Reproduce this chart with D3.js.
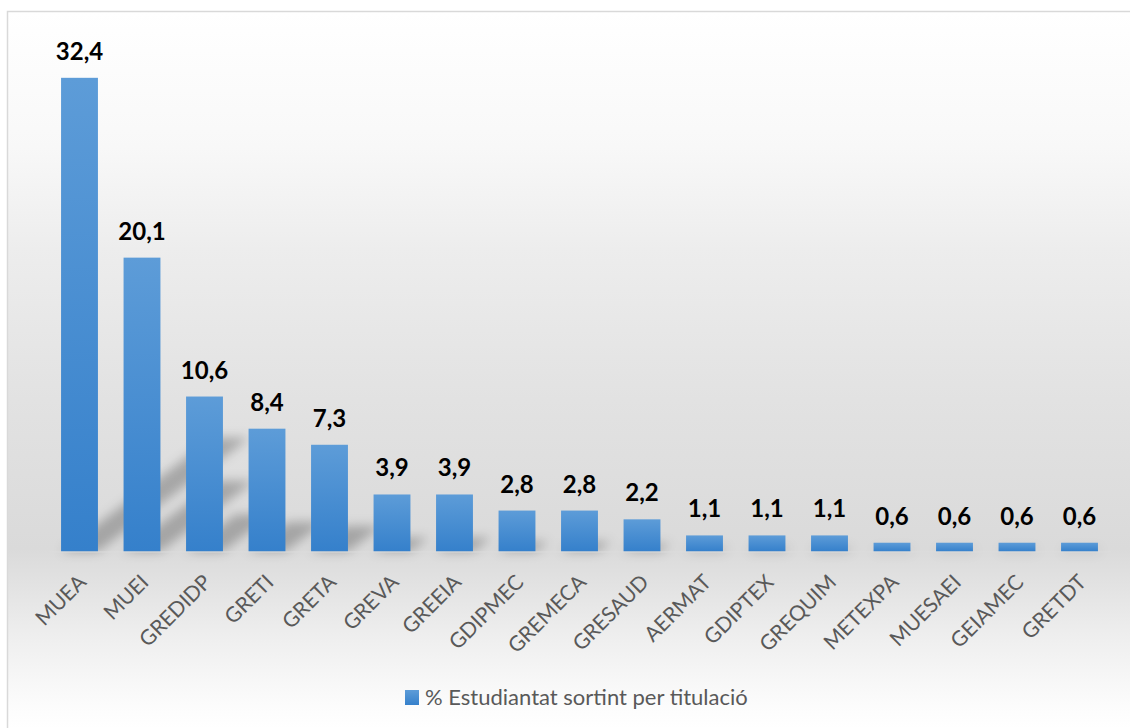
<!DOCTYPE html>
<html>
<head>
<meta charset="utf-8">
<script src="https://cdn.jsdelivr.net/npm/d3@7"></script>
<style>
  html, body { margin: 0; padding: 0; background: #ffffff; }
  svg { display: block; }
</style>
</head>
<body>
<svg id="chart" width="1130" height="728"></svg>
<script>
// Titulacions i percentatge d'estudiantat sortint
const categories = ["MUEA", "MUEI", "GREDIDP", "GRETI", "GRETA", "GREVA", "GREEIA", "GDIPMEC",
  "GREMECA", "GRESAUD", "AERMAT", "GDIPTEX", "GREQUIM", "METEXPA", "MUESAEI", "GEIAMEC", "GRETDT"];
const values = [32.4, 20.1, 10.6, 8.4, 7.3, 3.9, 3.9, 2.8, 2.8, 2.2, 1.1, 1.1, 1.1, 0.6, 0.6, 0.6, 0.6];
const seriesName = "% Estudiantat sortint per titulació";

const W = 1130, H = 728;
const svg = d3.select("#chart");
const defs = svg.append("defs");

// Chart area background: soft vertical grey gradient
const bg = defs.append("linearGradient")
  .attr("id", "bgGrad").attr("gradientUnits", "userSpaceOnUse")
  .attr("x1", 0).attr("y1", 12).attr("x2", 0).attr("y2", 728);
[[0, "#ffffff"], [0.19, "#f8f8f8"], [0.33, "#ededed"], [0.54, "#e2e2e2"],
 [0.75, "#dadada"], [0.87, "#eeeeee"], [0.97, "#fcfcfc"], [1, "#ffffff"]]
  .forEach(([o, c]) => bg.append("stop").attr("offset", o).attr("stop-color", c));

// Bar fill: lighter at top, deeper blue at the base
const barGrad = defs.append("linearGradient")
  .attr("id", "barGrad").attr("x1", 0).attr("y1", 0).attr("x2", 0).attr("y2", 1);
barGrad.append("stop").attr("offset", 0).attr("stop-color", "#5d9cd8");
barGrad.append("stop").attr("offset", 1).attr("stop-color", "#3580cb");

// Blur for the perspective shadows
defs.append("filter").attr("id", "shadowBlur")
  .attr("x", "-50%").attr("y", "-50%").attr("width", "200%").attr("height", "200%")
  .append("feGaussianBlur").attr("stdDeviation", 5.5);

svg.append("rect")
  .attr("x", 7.5).attr("y", 11.5).attr("width", W).attr("height", H)
  .attr("fill", "url(#bgGrad)")
  .attr("stroke", "#d9d9d9").attr("stroke-width", 1.5);

const base = 551.5;
const x = d3.scaleBand().domain(categories).range([48.25, 1110.75]).paddingInner(0.41).paddingOuter(0.205);
const y = d3.scaleLinear().domain([0, 35]).range([base, base - 35 * 14.62]);

const data = categories.map((c, i) => ({ cat: c, val: values[i] }));

// Perspective shadows cast up and to the right
svg.append("g").attr("filter", "url(#shadowBlur)")
  .selectAll("path").data(data).join("path")
  .attr("d", d => {
    const x0 = x(d.cat), x1 = x0 + x.bandwidth();
    const h = base - y(d.val);
    const dx = 0.32 * h, dy = 0.24 * h;
    return `M${x0},${base}L${x1},${base}L${x1 + dx},${base - dy}L${x0 + dx},${base - dy}Z`;
  })
  .attr("fill", "#000").attr("fill-opacity", 0.25);

// Bars
svg.append("g").selectAll("rect").data(data).join("rect")
  .attr("x", d => x(d.cat))
  .attr("y", d => y(d.val))
  .attr("width", x.bandwidth())
  .attr("height", d => base - y(d.val))
  .attr("fill", "url(#barGrad)");

// Value labels
const fmt = v => d3.format(".1f")(v).replace(".", ",");
svg.append("g").selectAll("text").data(data).join("text")
  .attr("x", d => x(d.cat) + x.bandwidth() / 2)
  .attr("y", d => y(d.val) - 18)
  .attr("text-anchor", "middle")
  .attr("font-family", "Lato, 'Open Sans', sans-serif")
  .attr("font-weight", "bold")
  .attr("font-size", 24)
  .attr("fill", "#000")
  .text(d => fmt(d.val));

// Category axis with rotated labels
const xAxis = svg.append("g").attr("transform", `translate(0,${base})`)
  .call(d3.axisBottom(x).tickSize(0).tickPadding(0));
xAxis.select(".domain").attr("stroke", "#dcdcdc").attr("stroke-width", 1);
xAxis.selectAll(".tick text")
  .attr("font-family", "Lato, 'Open Sans', sans-serif")
  .attr("font-size", 21)
  .attr("fill", "#595959")
  .attr("text-anchor", "end")
  .attr("dy", null)
  .attr("transform", "translate(8,32) rotate(-45)");

// Legend
const legend = svg.append("g").attr("transform", "translate(405,690)");
legend.append("rect").attr("width", 14).attr("height", 15).attr("fill", "url(#barGrad)");
legend.append("text")
  .attr("x", 20).attr("y", 15)
  .attr("font-family", "Lato, 'Open Sans', sans-serif")
  .attr("font-size", 22)
  .attr("fill", "#595959")
  .text(seriesName);
</script>
</body>
</html>
